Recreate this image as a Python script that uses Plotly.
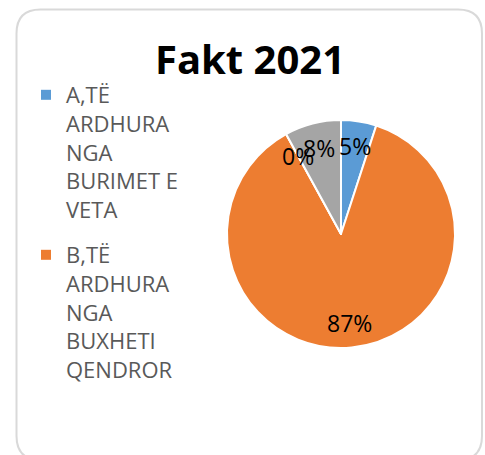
import math
import plotly.graph_objects as go

W, H = 485, 455

labels = [
    "A,TË<br>ARDHURA<br>NGA<br>BURIMET E<br>VETA",
    "B,TË<br>ARDHURA<br>NGA<br>BUXHETI<br>QENDROR",
    "C",
    "D",
]
values = [5, 87, 0, 8]
colors = ["#5b9bd5", "#ed7d31", "#a5a5a5", "#a5a5a5"]
legend_count = 2  # only A and B fit in the original legend


def px_x(v):
    return v / W


def px_y(v):
    return 1 - v / H


# pie placement in pixels
cx, cy, r = 341, 234, 114

fig = go.Figure()

fig.add_trace(go.Pie(
    labels=labels,
    values=values,
    sort=False,
    direction="clockwise",
    rotation=0,
    marker=dict(colors=colors, line=dict(color="white", width=2)),
    textinfo="none",
    showlegend=False,
    domain=dict(x=[px_x(cx - r), px_x(cx + r)], y=[px_y(cy + r), px_y(cy - r)]),
    hoverinfo="label+percent",
))

# legend entries
for i in range(legend_count):
    fig.add_trace(go.Scatter(
        x=[None], y=[None],
        mode="markers",
        name=labels[i],
        legendgroup=str(i),
        marker=dict(symbol="square", size=10, color=colors[i]),
    ))

# percentage labels placed at the middle angle of every slice
total = sum(values)
cum = 0
for v in values:
    ang = 2 * math.pi * (cum + v / 2) / total
    cum += v
    lx = cx + 0.78 * r * math.sin(ang)
    ly = cy - 0.78 * r * math.cos(ang)
    fig.add_annotation(
        x=px_x(lx), y=px_y(ly), xref="paper", yref="paper",
        text=f"{round(100 * v / total)}%", showarrow=False,
        font=dict(family="Open Sans", size=23, color="#000000"),
        xanchor="center", yanchor="middle",
    )

# rounded chart border
x0, x1, y0, y1, rr = 16.5, 482, 9.5, 460, 24
path = (
    f"M {px_x(x0 + rr)} {px_y(y0)} L {px_x(x1 - rr)} {px_y(y0)} "
    f"Q {px_x(x1)} {px_y(y0)} {px_x(x1)} {px_y(y0 + rr)} "
    f"L {px_x(x1)} {px_y(y1 - rr)} Q {px_x(x1)} {px_y(y1)} {px_x(x1 - rr)} {px_y(y1)} "
    f"L {px_x(x0 + rr)} {px_y(y1)} Q {px_x(x0)} {px_y(y1)} {px_x(x0)} {px_y(y1 - rr)} "
    f"L {px_x(x0)} {px_y(y0 + rr)} Q {px_x(x0)} {px_y(y0)} {px_x(x0 + rr)} {px_y(y0)} Z"
)
fig.add_shape(type="path", path=path, xref="paper", yref="paper",
              line=dict(color="#d9d9d9", width=2), layer="below")

fig.update_layout(
    width=W,
    height=H,
    title=dict(
        text="<b>Fakt 2021</b>",
        x=px_x(250), y=px_y(60), xanchor="center", yanchor="middle",
        font=dict(family="Open Sans", size=40, color="#000000"),
    ),
    xaxis=dict(visible=False),
    yaxis=dict(visible=False),
    legend=dict(
        x=px_x(26), y=px_y(74), xanchor="left", yanchor="top",
        font=dict(family="Open Sans", size=22, color="#595959"),
        valign="top",
        tracegroupgap=14,
        bgcolor="rgba(0,0,0,0)",
    ),
    showlegend=True,
    paper_bgcolor="white",
    plot_bgcolor="white",
    margin=dict(l=0, r=0, t=0, b=0),
)

fig.write_html("out.html", config={"displayModeBar": False},
               post_script="document.body.style.margin='0';")
